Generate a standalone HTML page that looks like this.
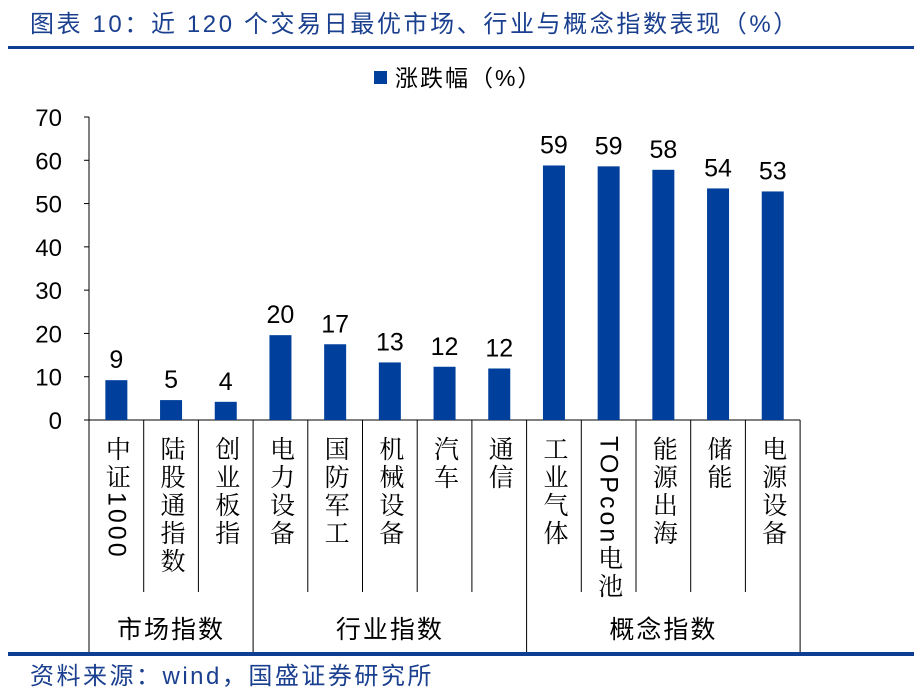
<!DOCTYPE html>
<html><head><meta charset="utf-8">
<style>
body{margin:0;background:#fff;width:922px;height:693px;overflow:hidden;font-family:"Liberation Sans","Noto Sans CJK SC",sans-serif;}
svg text{font-family:"Liberation Sans","Noto Sans CJK SC",sans-serif;}
.cat{position:absolute;writing-mode:vertical-rl;font-family:"Liberation Sans","Noto Serif CJK SC","Noto Sans CJK SC",sans-serif;font-size:25px;line-height:28px;color:#000;transform:translateX(-50%);letter-spacing:3px;}
</style></head><body>
<div style="position:absolute;left:30px;top:4px;font-size:24px;letter-spacing:2.6px;color:#1a3f8f;white-space:nowrap;">图表 10：近 120 个交易日最优市场、行业与概念指数表现（%）</div>
<div style="position:absolute;left:8px;top:46px;width:906px;height:3px;background:#0e3e91;"></div>
<div style="position:absolute;left:8px;top:652px;width:906px;height:4px;background:#0e3e91;"></div>
<div style="position:absolute;left:30px;top:656px;font-size:24px;letter-spacing:2.5px;color:#1a3f8f;white-space:nowrap;">资料来源：wind，国盛证券研究所</div>
<svg id="chart" width="922" height="693" style="position:absolute;left:0;top:0"></svg>
<div id="cats"></div>
<script>
const categories=["中证1000","陆股通指数","创业板指","电力设备","国防军工","机械设备","汽车","通信","工业气体","TOPcon电池","能源出海","储能","电源设备"];
const values=[9.2,4.6,4.2,19.6,17.5,13.3,12.3,11.9,58.8,58.6,57.8,53.5,52.8];
const valueLabels=["9","5","4","20","17","13","12","12","59","59","58","54","53"];
const yTicks=[0,10,20,30,40,50,60,70];
const groups=[{name:"市场指数",start:0,end:3},{name:"行业指数",start:3,end:8},{name:"概念指数",start:8,end:13}];
const NS="http://www.w3.org/2000/svg";
const svg=document.getElementById('chart');
const x0=89,bw=54.7,y0=420,pxPer=(420-117)/70;
const yS=v=>y0-v*pxPer;
const xS=i=>x0+i*bw;
function mk(t,a){const e=document.createElementNS(NS,t);for(const k in a)e.setAttribute(k,a[k]);svg.appendChild(e);return e;}
let lg=mk('rect',{x:374,y:71,width:13,height:13,fill:'#003f9c'});


let lt=mk('text',{x:395,y:86,'font-size':23,'letter-spacing':2,fill:'#000'});lt.textContent='涨跌幅（%）';


let ya=mk('line',{x1:x0,y1:yS(70),x2:x0,y2:y0,stroke:'#000','stroke-width':1});


yTicks.forEach(t=>{
 mk('line',{x1:x0-5,y1:yS(t),x2:x0,y2:yS(t),stroke:'#000'});
 const tx=mk('text',{x:62,y:yS(t)+9,'font-size':24,'text-anchor':'end',fill:'#000'});tx.textContent=t;
 
 
});
let xa=mk('line',{x1:x0,y1:y0,x2:xS(categories.length),y2:y0,stroke:'#000'});


values.forEach((v,i)=>{
 const cx=xS(i)+bw/2;
 const r=mk('rect',{x:cx-11,y:yS(v),width:22,height:y0-yS(v),fill:'#003f9c'});
 
 
 const t=mk('text',{x:cx,y:yS(v)-12,'font-size':25,'text-anchor':'middle',fill:'#000'});t.textContent=valueLabels[i];
 
 
});
const groupEdges=new Set();groups.forEach(g=>{groupEdges.add(g.start);groupEdges.add(g.end);});
for(let i=0;i<=categories.length;i++){
 const bottom=groupEdges.has(i)?652:592;
 mk('line',{x1:xS(i),y1:y0,x2:xS(i),y2:bottom,stroke:'#000'});
}
groups.forEach(g=>{
 const t=mk('text',{x:(xS(g.start)+xS(g.end))/2,y:638,'font-size':25,'letter-spacing':2,'text-anchor':'middle',fill:'#000'});t.textContent=g.name;
 
 
});
const cd=document.getElementById('cats');
categories.forEach((c,i)=>{
 const d=document.createElement('div');d.className='cat';d.textContent=c;
 d.style.left=(xS(i)+bw/2)+'px';d.style.top='436px';
 
 
 cd.appendChild(d);
});
</script>
</body></html>
